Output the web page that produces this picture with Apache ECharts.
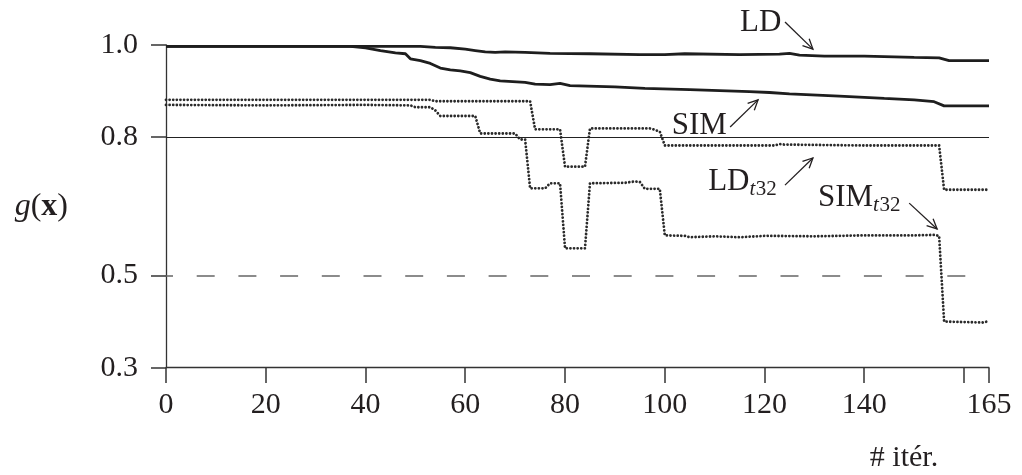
<!DOCTYPE html>
<html><head><meta charset="utf-8">
<script src="https://cdn.jsdelivr.net/npm/echarts@6/dist/echarts.min.js"></script>
<style>html,body{margin:0;padding:0;background:#fff}#c{width:1022px;height:475px}</style>
</head><body><div id="c"></div><script>
// ---- data ----
const xTicks = [0, 20, 40, 60, 80, 100, 120, 140, 160, 165];
const xLabels = [0, 20, 40, 60, 80, 100, 120, 140, 165];
const yTicks = [0.3, 0.5, 0.8, 1.0];
const refSolidLevel = 0.8;
const refDashedLevel = 0.5;

const LD = [[0,0.997],[51,0.997],[54,0.995],[57,0.994],[60,0.991],[62,0.988],[64,0.985],[66,0.984],[68,0.985],[72,0.984],[77,0.982],[85,0.981],[95,0.979],[100,0.979],[104,0.981],[115,0.979],[123,0.980],[125,0.982],[127,0.978],[132,0.976],[140,0.976],[150,0.973],[155,0.972],[157,0.966],[165,0.966]];
const SIM = [[0,0.997],[37,0.997],[40,0.994],[43,0.988],[46,0.983],[48,0.981],[49,0.970],[51,0.966],[53,0.960],[55,0.950],[57,0.946],[59,0.944],[61,0.940],[63,0.932],[65,0.926],[67,0.922],[72,0.919],[74,0.915],[77,0.914],[79,0.917],[81,0.912],[90,0.909],[96,0.906],[105,0.903],[117,0.899],[121,0.897],[125,0.894],[135,0.889],[144,0.884],[150,0.881],[154,0.877],[156,0.868],[165,0.868]];
const LDt32 = [[0,0.881],[53,0.881],[54,0.878],[73,0.878],[74,0.817],[79,0.817],[80,0.736],[84,0.736],[85,0.819],[97,0.819],[98,0.816],[99,0.812],[100,0.782],[115,0.782],[122,0.782],[123,0.785],[124,0.784],[140,0.782],[155,0.782],[156,0.686],[165,0.686]];
const SIMt32 = [[0,0.870],[20,0.869],[40,0.870],[49,0.869],[50,0.865],[53,0.865],[54,0.858],[55,0.846],[62,0.846],[63,0.808],[70,0.808],[71,0.795],[72,0.795],[73,0.689],[76,0.689],[77,0.700],[79,0.700],[80,0.559],[84,0.559],[85,0.700],[92,0.701],[94,0.704],[95,0.703],[96,0.688],[99,0.688],[100,0.587],[104,0.586],[105,0.583],[110,0.585],[115,0.583],[120,0.586],[130,0.585],[140,0.587],[150,0.587],[154,0.588],[155,0.586],[156,0.400],[164,0.398],[165,0.402]];

// annotation placement (data coordinates)
const notes = [
  {main:'LD',  sub:'',    t:[115.1,1.048], a:[124.1,1.050], b:[129.7,0.991]},
  {main:'SIM', sub:'',    t:[101.4,0.824], a:[113.1,0.822], b:[118.7,0.881]},
  {main:'LD',  sub:'t32', t:[108.7,0.704], a:[124.1,0.696], b:[129.7,0.755]},
  {main:'SIM', sub:'t32', t:[130.7,0.669], a:[149.0,0.657], b:[154.6,0.601]}
];

const FONT = '"Liberation Serif","DejaVu Serif",serif';
const INK = '#231f20';
const AX = '#333';
const chart = echarts.init(document.getElementById('c'), null, {renderer:'canvas'});

const solidStyle = {color:'#1e1e1e', width:2.8};
const dotStyle = {color:'#2a2a2a', width:2.8, type:[0.01,3.6], cap:'round'};

const option = {
  animation:false,
  backgroundColor:'#fff',
  grid:{left:166, right:33, top:45, bottom:107.3},
  xAxis:{
    type:'value', min:0, max:165,
    axisLine:{show:true, onZero:false, lineStyle:{color:AX, width:1.3}},
    axisTick:{show:false},
    axisLabel:{customValues:xLabels, margin:22, fontFamily:FONT, fontSize:30, color:INK},
    splitLine:{show:false}
  },
  yAxis:{
    type:'value', min:0.3, max:1.0,
    name:'{i|g}{n|(}{b|x}{n|)}', nameLocation:'middle', nameRotate:0, nameGap:98,
    nameTextStyle:{rich:{
      i:{fontFamily:FONT, fontSize:32, fontStyle:'italic', color:INK},
      n:{fontFamily:FONT, fontSize:32, color:INK},
      b:{fontFamily:FONT, fontSize:32, fontWeight:'bold', color:INK}
    }},
    axisLine:{show:true, onZero:false, lineStyle:{color:AX, width:1.3}},
    axisTick:{show:false},
    axisLabel:{customValues:yTicks, margin:28, fontFamily:FONT, fontSize:30, color:INK,
      formatter: v => Number(v).toFixed(1)},
    splitLine:{show:false}
  },
  series:[
    {name:'LD', type:'line', data:LD, showSymbol:false, lineStyle:solidStyle, z:3,
      markLine:{silent:true, symbol:'none', label:{show:false}, data:[
        {yAxis:refSolidLevel, lineStyle:{color:'#222', width:1.2, type:'solid'}},
        {yAxis:refDashedLevel, lineStyle:{color:'#666', width:1.6, type:[18,23.7], dashOffset:11}}
      ]}},
    {name:'SIM', type:'line', data:SIM, showSymbol:false, lineStyle:solidStyle, z:3},
    {name:'LDt32', type:'line', data:LDt32, showSymbol:false, lineStyle:dotStyle, z:3},
    {name:'SIMt32', type:'line', data:SIMt32, showSymbol:false, lineStyle:dotStyle, z:3}
  ]
};
chart.setOption(option);

const ctx = document.createElement('canvas').getContext('2d');
function tw(txt, font){ ctx.font = font; return ctx.measureText(txt).width; }
const toPx = p => chart.convertToPixel({xAxisIndex:0, yAxisIndex:0}, p);
const g = [];

// axis ticks from the tick arrays, positioned with the library's scales
const origin = toPx([0, 0.3]);
xTicks.forEach(v => {
  const p = toPx([v, 0.3]);
  g.push({type:'rect', z:10, shape:{x:Math.round(p[0])-0.75, y:Math.round(origin[1]), width:1.5, height:15}, style:{fill:AX}});
});
yTicks.forEach(v => {
  const p = toPx([0, v]);
  g.push({type:'rect', z:10, shape:{x:Math.round(origin[0])-15, y:Math.round(p[1])-0.75, width:15, height:1.5}, style:{fill:AX}});
});

notes.forEach(n => {
  const tp = toPx(n.t);
  g.push({type:'text', x:tp[0], y:tp[1], style:{text:n.main, font:'31px ' + FONT, fill:INK, textAlign:'left', textVerticalAlign:'middle'}});
  if (n.sub) {
    const w = tw(n.main, '31px "Liberation Serif"');
    const wt = tw('t', 'italic 21px "Liberation Serif"');
    g.push({type:'text', x:tp[0]+w, y:tp[1]+8, style:{text:'t', font:'italic 21px ' + FONT, fill:INK, textAlign:'left', textVerticalAlign:'middle'}});
    g.push({type:'text', x:tp[0]+w+wt+0.5, y:tp[1]+8, style:{text:n.sub.slice(1), font:'21px ' + FONT, fill:INK, textAlign:'left', textVerticalAlign:'middle'}});
  }
  const A = toPx(n.a), B = toPx(n.b);
  g.push({type:'line', shape:{x1:A[0], y1:A[1], x2:B[0], y2:B[1]}, style:{stroke:INK, lineWidth:1.3}});
  const dx = B[0]-A[0], dy = B[1]-A[1], L = Math.hypot(dx,dy), ux = dx/L, uy = dy/L;
  const len = 11, th = 0.45;
  const r = (s) => [B[0] - len*(ux*Math.cos(s) - uy*Math.sin(s)), B[1] - len*(ux*Math.sin(s) + uy*Math.cos(s))];
  g.push({type:'polyline', shape:{points:[r(th), [B[0],B[1]], r(-th)]}, style:{stroke:INK, lineWidth:1.3, fill:null}});
});
g.push({type:'text', x:904, y:458, style:{text:'# itér.', font:'30px ' + FONT, fill:INK, textAlign:'center', textVerticalAlign:'middle'}});
chart.setOption({graphic:{elements:g}});
</script></body></html>
